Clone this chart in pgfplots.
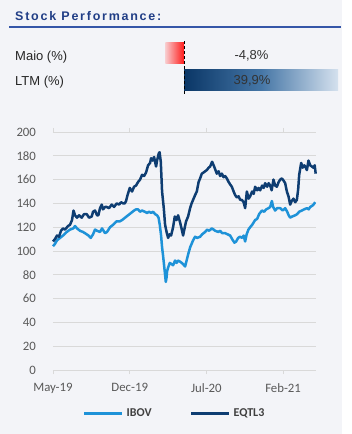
\documentclass[border=0pt]{standalone}
\usepackage{fontspec}
\setmainfont{Carlito}
\newfontfamily\arialf{Liberation Sans}
\newfontfamily\titlef[LetterSpace=14]{Liberation Sans}
\usepackage{pgfplots}
\usepackage{pgfplotstable}
\pgfplotsset{compat=1.18}

\definecolor{panelbg}{HTML}{F3F4F8}
\definecolor{titleblue}{HTML}{213E86}
\definecolor{ruleblue}{HTML}{3556A8}
\definecolor{ibov}{HTML}{1E92D8}
\definecolor{eqtl}{HTML}{0E3D72}
\definecolor{gridc}{HTML}{D9D9D9}
\definecolor{tickc}{HTML}{595959}
\definecolor{bA}{HTML}{0A3666}
\definecolor{bB}{HTML}{4576A6}
\definecolor{bC}{HTML}{D5E1EE}
\definecolor{rA}{HTML}{F8CACC}
\definecolor{rB}{HTML}{FF1A1A}
\pgfdeclarehorizontalshading{bluebar}{100bp}{color(0bp)=(bA); color(25bp)=(bA); color(50bp)=(bB); color(75bp)=(bC); color(100bp)=(bC)}
\pgfdeclarehorizontalshading{redbar}{100bp}{color(0bp)=(rA); color(25bp)=(rA); color(75bp)=(rB); color(100bp)=(rB)}

% x in pixel columns of the source chart (May-19 = 53, one month = 10.95)
\pgfplotstableread{
px val
53 108
55 110
57 113
59 112
61 117
63 119
65 118
68 121
70 122
72 126
73.5 134
75 130
77 128
79 130
81.7 128
84 131
86.7 131
89 128
91.7 129
93 133
95 134
97 130
98.3 130
100 136
101.7 139
103 135
105 137
106.7 137
109 136
111.7 139
114 137
116.7 140
119 139
121 141
123 140
124.7 140
126 142
127.5 147
129.7 153
132 150
134 154
136 155
138 158
140 160
142 164
144 163
146 166
148 172
150 174
151 178
152.5 176
154 179
156 171
157 176
158.7 182
159.5 183
160.7 175
162 150
163.7 136
165 122
166.5 116
168 111
169.5 114
171 113
173 120
174.7 129
176.5 126
178 130
180 124
181.7 118
183 113
184.7 120
186 125
188 129
190 136
191.5 140
193 143
195 147
196.7 150
198.5 158
200 161
201.7 165
203.5 166
205 167
206.7 168
208.5 170
210 171
212 175
214 171
216.7 165
218.5 167
220 163
221.7 165
223.5 162
225 163
226.7 161
228.5 158
230 156
231.7 154
233.5 150
235 147
236.7 145
238.5 146
240 143
241.7 143
243.5 141
245 136
246.7 150
248.5 144
250 146
252 150
253.5 148
255 154
257 151
258.5 153
260 151
262 155
263.5 153
265 157
267 154
268.5 157
270 155
271.5 151
273.3 160
275 155
276.7 154
278.5 158
280 160
281.7 161
283.5 159
285 157
286.7 150
288.3 146
290 139
291.5 142
293.3 144
295 141
296.7 143
298 152
299 164
301 174
302.5 170
304 172
305 171
306.7 168
308.3 176
310 172
311.7 171
313.3 170
314.5 172
315.5 165
}\eqtldata

\pgfplotstableread{
px val
53 104
55 106
57 109
60 111
63 113
66.7 116
70 118
73.3 119
75 121
77 119
80 117
83 116
86.7 114
88.5 113
90.7 111
93 114
95 118
97 117
100 116
102 119
105 115
107 116
110 120
113 122
116.7 125
120 125
122 126
125 128
128 130
131 132
134 134
136 135
138 135
140 133
142 134
144.7 133
147 132
149 133
151 132
153 133
155 131
157 130
158.5 128
159.7 122
161 113
162 103
163 96
164 88
165 80
165.7 74
166.5 78
167 83
168 86
169.7 90
171.5 89
173 88
175 92
176.5 90
178 92
180 91
181.7 90
183 89
185 87
186.5 92
188 97
190 103
191.5 106
193 109
195 112
197 111
200 112
202 114
205 116
207 118
209 117
211.7 119
213.5 118
215 117
218.3 116
220 117
222 115
225 115
227.5 114
230 113
232 110
234.3 107
236 108
238 111
240 112
242 111
243.5 113
245 108
246.5 114
248.3 118
250 120
252 122
255 126
257 127
259 131
261.7 134
264 133
266 135
268.3 136
270 137
271.7 142
273 137
275 134
277 136
280 136
282.5 134
285 136
287 133
288.5 130
290 128
292 129
295 130
297 131
299 133
301.7 134
304 135
306.7 136
308.5 135
310 137
312 138
313.3 139
315 141
}\ibovdata

\begin{document}
\begin{tikzpicture}
\path[use as bounding box] (0pt,0pt) rectangle (351pt,434pt);
\fill[white!97!panelbg] (0pt,0pt) rectangle (351pt,434pt);
\fill[panelbg] (0pt,0pt) rectangle (342pt,434pt);

% title
\node[anchor=west, inner sep=0pt, text=titleblue, font=\titlef\bfseries\fontsize{12.5}{14}\selectfont] at (15pt,417.5pt) {Stock Performance:};
\draw[ruleblue, line width=2pt] (9pt,407.3pt) -- (341pt,407.3pt);

% row labels
\node[anchor=west, inner sep=0pt, text=black!85, font=\arialf\fontsize{13}{15}\selectfont] at (15pt,377.3pt) {Maio (\%)};
\node[anchor=west, inner sep=0pt, text=black!85, font=\arialf\fontsize{13}{15}\selectfont] at (15pt,352.3pt) {LTM (\%)};

% performance bars
\begin{axis}[
  at={(164.7pt,340.2pt)}, anchor=south west,
  scale only axis, width=173.7pt, height=54pt,
  xmin=-5, xmax=40, ymin=-0.5, ymax=1.5,
  axis line style={draw=none},
  xtick=\empty, ytick=\empty,
  extra x ticks={0}, extra x tick labels={},
  extra x tick style={grid=major, major tick length=0pt,
     major grid style={black, densely dashed, line width=1pt}},
  axis on top,
  clip=false,
]
\addplot[xbar, bar width=21pt, bar shift=0pt, draw=none, shading=redbar, shade] coordinates {(-4.8,1)};
\addplot[xbar, bar width=21pt, bar shift=0pt, draw=none, shading=bluebar, shade] coordinates {(39.9,0)};
\end{axis}
\node[text=black!80, font=\arialf\fontsize{13}{15}\selectfont, inner sep=0pt] at (251.5pt,378pt) {-4,8\%};
\node[text=black!80, font=\arialf\fontsize{13}{15}\selectfont, inner sep=0pt] at (252pt,353pt) {39,9\%};

% price chart
\begin{axis}[
  at={(53pt,64pt)}, anchor=south west,
  scale only axis, width=263pt, height=238pt,
  xmin=0, xmax=24, ymin=0, ymax=200,
  ytick={0,20,...,200},
  xtick={0,7,14,21},
  xticklabels={May-19,Dec-19,Jul-20,Feb-21},
  ymajorgrids, grid style={gridc, line width=0.8pt},
  axis line style={draw=none},
  ytick style={draw=none},
  xtick style={gridc, line width=0.8pt},
  tick align=outside, major tick length=4pt,
  /pgf/number format/assume math mode=true,
  tick label style={text=tickc, font=\fontsize{12.8}{14}\selectfont},
  yticklabel style={xshift=-9.5pt},
  xticklabel style={yshift=-6pt},
  clip=false,
  legend columns=2,
  legend style={draw=none, fill=none, at={(0.462,-0.1836)}, anchor=center,
     font=\bfseries\fontsize{12}{14}\selectfont, text=black!75,
     /tikz/every odd column/.append style={column sep=1pt},
     /tikz/every even column/.append style={column sep=36pt}},
  legend image code/.code={\draw[#1, line width=3pt] (0pt,0pt) -- (38pt,0pt);},
]
\addplot[ibov, line width=2.5pt, line join=round] table[x expr=(\thisrow{px}-53)/10.95, y=val] {\ibovdata};
\addlegendentry{IBOV}
\addplot[eqtl, line width=2.5pt, line join=round] table[x expr=(\thisrow{px}-53)/10.95, y=val] {\eqtldata};
\addlegendentry{EQTL3}
\end{axis}
\end{tikzpicture}
\end{document}
